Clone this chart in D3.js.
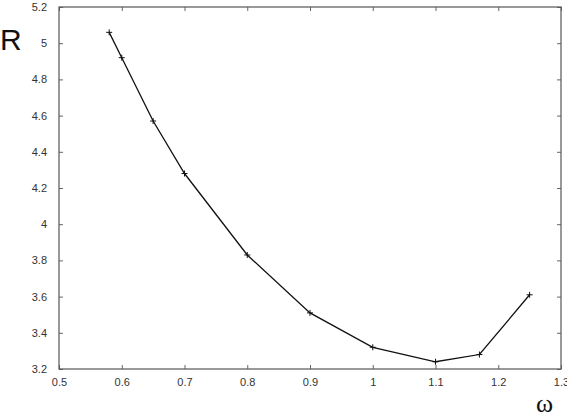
<!DOCTYPE html>
<html>
<head>
<meta charset="utf-8">
<script src="https://cdn.jsdelivr.net/npm/d3@7"></script>
<style>
  body { margin: 0; background: #fff; }
  .tick text { font-family: "Liberation Sans", Arial, sans-serif; font-size: 11px; fill: #333; }
</style>
</head>
<body>
<script>
// data
var omega = [0.58, 0.6, 0.65, 0.7, 0.8, 0.9, 1.0, 1.1, 1.17, 1.25];
var rValues = [5.06, 4.92, 4.57, 4.28, 3.83, 3.51, 3.32, 3.24, 3.28, 3.61];
var xTicks = [0.5, 0.6, 0.7, 0.8, 0.9, 1.0, 1.1, 1.2, 1.3];
var yTicks = [3.2, 3.4, 3.6, 3.8, 4.0, 4.2, 4.4, 4.6, 4.8, 5.0, 5.2];

var svgWidth = 567;
var svgHeight = 420;

var margin = { top: 7, right: 6, bottom: 51, left: 59 };
var width = svgWidth - margin.left - margin.right;
var height = svgHeight - margin.top - margin.bottom;

var svg = d3.select("body")
  .append("svg")
  .attr("width", svgWidth)
  .attr("height", svgHeight);

var chartGroup = svg.append("g")
  .attr("transform", `translate(${margin.left}, ${margin.top})`);

var xScale = d3.scaleLinear().domain([0.5, 1.3]).range([0, width]);
var yScale = d3.scaleLinear().domain([3.2, 5.2]).range([height, 0]);

var fmt = d => d3.format("")(+d.toFixed(1));

// inward ticks, with labels on bottom and left
var bottomAxis = d3.axisBottom(xScale).tickValues(xTicks).tickFormat(fmt)
  .tickSizeInner(-4).tickSizeOuter(0).tickPadding(9);
var leftAxis = d3.axisLeft(yScale).tickValues(yTicks).tickFormat(fmt)
  .tickSizeInner(-4).tickSizeOuter(0).tickPadding(12);
var topAxis = d3.axisTop(xScale).tickValues(xTicks).tickFormat("")
  .tickSizeInner(-4).tickSizeOuter(0);
var rightAxis = d3.axisRight(yScale).tickValues(yTicks).tickFormat("")
  .tickSizeInner(-4).tickSizeOuter(0);

chartGroup.append("g").attr("transform", `translate(0, ${height})`).call(bottomAxis);
chartGroup.append("g").call(leftAxis);
chartGroup.append("g").call(topAxis);
chartGroup.append("g").attr("transform", `translate(${width}, 0)`).call(rightAxis);

chartGroup.selectAll(".domain").remove();
chartGroup.selectAll(".tick line").attr("stroke", "#666");

// frame
chartGroup.append("rect")
  .attr("x", 0).attr("y", 0)
  .attr("width", width).attr("height", height)
  .attr("fill", "none")
  .attr("stroke", "#555")
  .attr("stroke-width", 1.2);

var points = omega.map((w, i) => [w, rValues[i]]);

var line = d3.line()
  .x(d => xScale(d[0]))
  .y(d => yScale(d[1]));

chartGroup.append("path")
  .datum(points)
  .attr("d", line)
  .attr("fill", "none")
  .attr("stroke", "#111")
  .attr("stroke-width", 1.3);

// plus markers
chartGroup.selectAll(".mark")
  .data(points)
  .enter()
  .append("path")
  .attr("class", "mark")
  .attr("d", d => {
    var x = xScale(d[0]), y = yScale(d[1]);
    return `M${x - 3},${y}H${x + 3}M${x},${y - 3}V${y + 3}`;
  })
  .attr("stroke", "#111")
  .attr("stroke-width", 1);

// axis titles
svg.append("text")
  .attr("x", 0)
  .attr("y", 50)
  .attr("font-family", "Liberation Sans, Arial, sans-serif")
  .attr("font-size", 30)
  .attr("fill", "#111")
  .text("R");

svg.append("text")
  .attr("x", 536)
  .attr("y", 412)
  .attr("font-family", "Liberation Serif, Times New Roman, serif")
  .attr("font-size", 26)
  .attr("fill", "#111")
  .text("ω");
</script>
</body>
</html>
